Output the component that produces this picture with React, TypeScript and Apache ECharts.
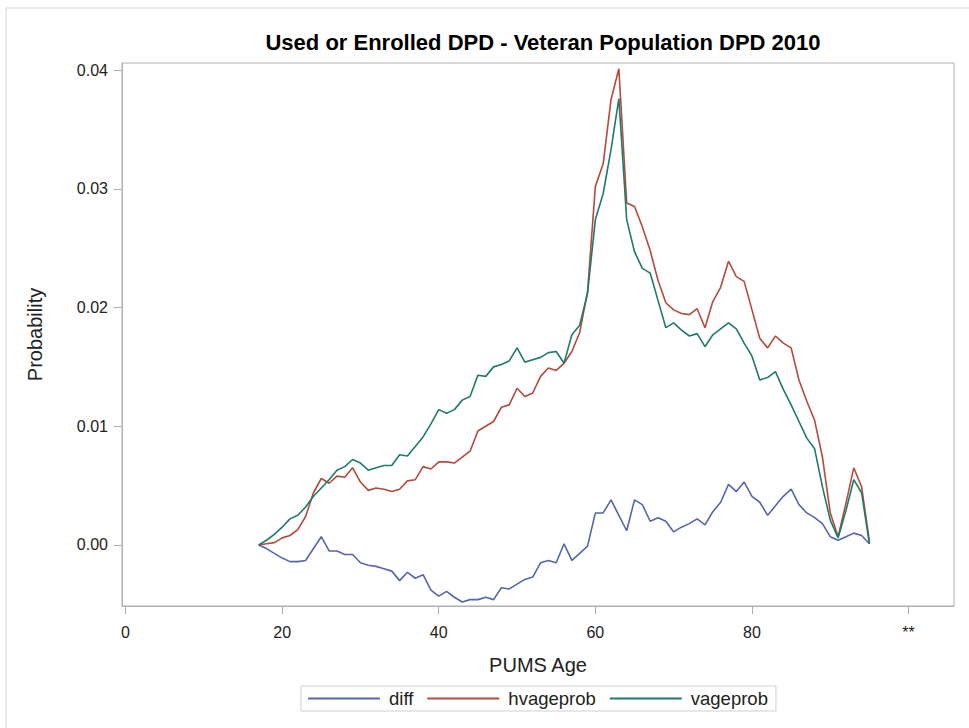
import React, { useEffect, useRef } from "react";
import * as echarts from "echarts";

const ages: number[] = [
  17, 18, 19, 20, 21, 22, 23, 24, 25, 26, 27, 28, 29, 30, 31, 32, 33, 34, 35, 36,
  37, 38, 39, 40, 41, 42, 43, 44, 45, 46, 47, 48, 49, 50, 51, 52, 53, 54, 55, 56,
  57, 58, 59, 60, 61, 62, 63, 64, 65, 66, 67, 68, 69, 70, 71, 72, 73, 74, 75, 76,
  77, 78, 79, 80, 81, 82, 83, 84, 85, 86, 87, 88, 89, 90, 91, 92, 93, 94, 95,
];

const diff: number[] = [
  0.0, -0.0003, -0.0007, -0.0011, -0.0014, -0.0014, -0.0013, -0.0003, 0.0007, -0.0005,
  -0.0005, -0.0008, -0.0008, -0.0015, -0.0017, -0.0018, -0.002, -0.0022, -0.003, -0.0023,
  -0.0028, -0.0025, -0.0038, -0.0043, -0.0039, -0.0044, -0.0048, -0.0046, -0.0046, -0.0044,
  -0.0046, -0.0036, -0.0037, -0.0033, -0.0029, -0.0027, -0.0015, -0.0013, -0.0015, 0.0001,
  -0.0013, -0.0007, -0.0001, 0.0027, 0.0027, 0.0038, 0.0025, 0.0012, 0.0038, 0.0034,
  0.002, 0.0023, 0.002, 0.0011, 0.0015, 0.0018, 0.0022, 0.0017, 0.0028, 0.0036,
  0.0051, 0.0045, 0.0053, 0.0041, 0.0036, 0.0025, 0.0033, 0.0041, 0.0047, 0.0034,
  0.0027, 0.0023, 0.0018, 0.0007, 0.0004, 0.0007, 0.001, 0.0008, 0.0001,
];

const hvageprob: number[] = [
  0.0, 0.0001, 0.0002, 0.0006, 0.0008, 0.0013, 0.0024, 0.0044, 0.0056, 0.0052,
  0.0058, 0.0057, 0.0065, 0.0053, 0.0046, 0.0048, 0.0047, 0.0045, 0.0047, 0.0054,
  0.0055, 0.0066, 0.0064, 0.007, 0.007, 0.0069, 0.0074, 0.0079, 0.0096, 0.01,
  0.0104, 0.0116, 0.0118, 0.0132, 0.0125, 0.0128, 0.0142, 0.0149, 0.0147, 0.0153,
  0.0163, 0.0179, 0.0213, 0.0302, 0.0321, 0.0375, 0.0401, 0.0288, 0.0285, 0.0268,
  0.0248, 0.0223, 0.0204, 0.0198, 0.0195, 0.0194, 0.0199, 0.0183, 0.0205, 0.0217,
  0.0239, 0.0226, 0.0222, 0.0198, 0.0174, 0.0166, 0.0176, 0.017, 0.0166, 0.0139,
  0.0121, 0.0105, 0.0074, 0.0027, 0.0007, 0.0035, 0.0065, 0.0049, 0.0003,
];

const vageprob: number[] = [
  0.0, 0.0004, 0.0009, 0.0015, 0.0022, 0.0025, 0.0032, 0.0041, 0.0048, 0.0055,
  0.0063, 0.0066, 0.0072, 0.0069, 0.0063, 0.0065, 0.0067, 0.0067, 0.0076, 0.0075,
  0.0083, 0.0091, 0.0102, 0.0114, 0.0111, 0.0114, 0.0122, 0.0125, 0.0143, 0.0142,
  0.015, 0.0152, 0.0155, 0.0166, 0.0154, 0.0156, 0.0158, 0.0162, 0.0163, 0.0153,
  0.0177, 0.0185, 0.0212, 0.0274, 0.0296, 0.0333, 0.0376, 0.0274, 0.0247, 0.0233,
  0.0229, 0.0206, 0.0183, 0.0187, 0.0181, 0.0176, 0.0178, 0.0167, 0.0177, 0.0182,
  0.0187, 0.0182, 0.017, 0.0159, 0.0139, 0.0141, 0.0146, 0.0131, 0.0118, 0.0104,
  0.009, 0.0081, 0.0049, 0.0021, 0.0006, 0.0029, 0.0055, 0.0044, 0.0001,
];

const xTicks: number[] = [0, 20, 40, 60, 80, 100];
const yTicks: number[] = [0, 0.01, 0.02, 0.03, 0.04];
const seriesNames: string[] = ["diff", "hvageprob", "vageprob"];
const seriesColors: string[] = ["#5466ad", "#b5493c", "#1f7a6c"];

const FONT = "'Liberation Sans', Arial, sans-serif";
const AXIS_COLOR = "#a9b1b7";
const TEXT_COLOR = "#222";

export default function App() {
  const ref = useRef<HTMLDivElement>(null);

  useEffect(() => {
    if (!ref.current) return;
    const chart = echarts.init(ref.current, null, { renderer: "svg" });
    const allData = [diff, hvageprob, vageprob];
    const option: any = {
      animation: false,
      backgroundColor: "#ffffff",
      textStyle: { fontFamily: FONT },
      title: {
        text: "Used or Enrolled DPD - Veteran Population DPD 2010",
        left: 538,
        textAlign: "center",
        top: 26,
        textStyle: { fontFamily: FONT, fontSize: 22, fontWeight: "bold", color: "#000" },
      },
      graphic: [
        { type: "line", shape: { x1: 6, y1: 8, x2: 969, y2: 8 }, style: { stroke: "#d6d6d6", lineWidth: 1 } },
        { type: "line", shape: { x1: 6, y1: 8, x2: 6, y2: 728 }, style: { stroke: "#d6d6d6", lineWidth: 1 } },
      ],
      grid: {
        left: 122,
        right: 15,
        top: 63,
        bottom: 122,
        show: true,
        borderColor: AXIS_COLOR,
        borderWidth: 1,
        backgroundColor: "transparent",
      },
      legend: {
        data: seriesNames.map((n) => ({ name: n, icon: "rect" })),
        left: 301,
        top: 686,
        orient: "horizontal",
        itemWidth: 72,
        itemHeight: 2,
        itemGap: 14,
        borderColor: "#cfcfcf",
        borderWidth: 1,
        padding: [3, 8, 3, 7],
        textStyle: { fontFamily: FONT, fontSize: 18.5, color: TEXT_COLOR, padding: [0, 0, 0, 4] },
      },
      xAxis: {
        type: "value",
        min: -0.45,
        max: 105.8,
        name: "PUMS Age",
        nameLocation: "middle",
        nameGap: 49,
        nameTextStyle: { fontFamily: FONT, fontSize: 20, color: TEXT_COLOR },
        axisLine: { show: true, onZero: false, lineStyle: { color: AXIS_COLOR } },
        axisTick: { show: true, length: 8, customValues: xTicks, lineStyle: { color: AXIS_COLOR } },
        axisLabel: {
          customValues: xTicks,
          margin: 18,
          fontFamily: FONT,
          fontSize: 16,
          color: TEXT_COLOR,
          formatter: (v: number) => (v === 100 ? "**" : String(v)),
        },
        splitLine: { show: false },
      },
      yAxis: {
        type: "value",
        min: -0.005137,
        max: 0.04059,
        name: "Probability",
        nameLocation: "middle",
        nameGap: 77,
        nameTextStyle: { fontFamily: FONT, fontSize: 20, color: TEXT_COLOR },
        axisLine: { show: true, onZero: false, lineStyle: { color: AXIS_COLOR } },
        axisTick: { show: true, length: 8, customValues: yTicks, lineStyle: { color: AXIS_COLOR } },
        axisLabel: {
          customValues: yTicks,
          margin: 14,
          fontFamily: FONT,
          fontSize: 16,
          color: TEXT_COLOR,
          formatter: (v: number) => v.toFixed(2),
        },
        splitLine: { show: false },
      },
      series: seriesNames.map((name, i) => ({
        name,
        type: "line",
        data: ages.map((a, j) => [a, allData[i][j]]),
        symbol: "none",
        color: seriesColors[i],
        lineStyle: { width: 1.6, color: seriesColors[i] },
      })),
    };
    chart.setOption(option);
    return () => chart.dispose();
  }, []);

  return (
    <div
      ref={ref}
      style={{ position: "absolute", left: 0, top: 0, width: 969, height: 728 }}
    />
  );
}
